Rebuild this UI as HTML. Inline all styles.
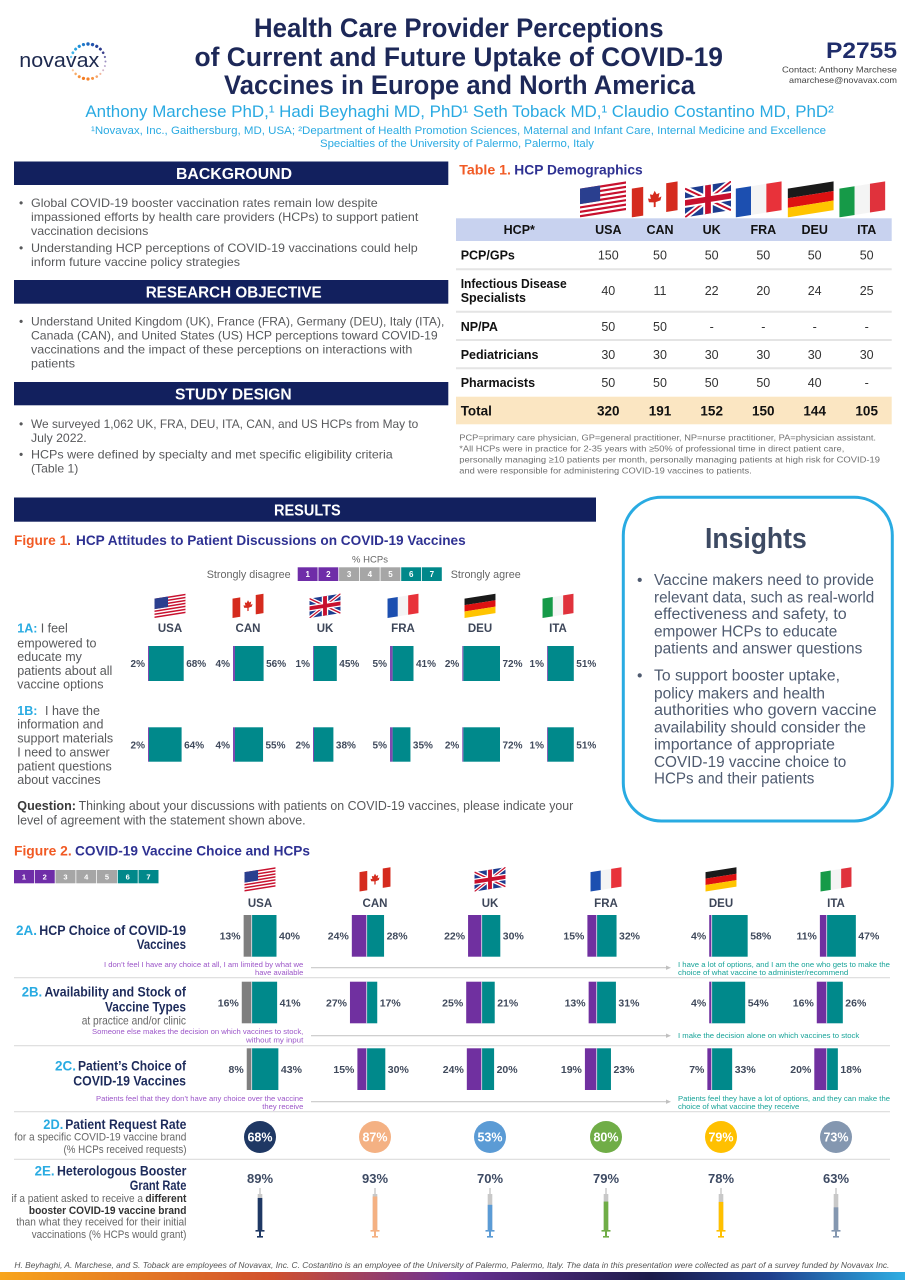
<!DOCTYPE html>
<html><head><meta charset="utf-8"><style>html,body{margin:0;padding:0;background:#fff}svg{display:block}</style></head>
<body>
<svg width="905" height="1280" viewBox="0 0 905 1280" xmlns="http://www.w3.org/2000/svg" font-family="'Liberation Sans', Arial, sans-serif">
<defs>
<symbol id="fUSA" viewBox="0 -8 48 38"><g transform="skewY(-9)"><rect width="48" height="30" fill="#c8102e"/><g fill="#fff"><rect y="2.31" width="48" height="2.31"/><rect y="6.92" width="48" height="2.31"/><rect y="11.54" width="48" height="2.31"/><rect y="16.15" width="48" height="2.31"/><rect y="20.77" width="48" height="2.31"/><rect y="25.38" width="48" height="2.31"/></g><rect width="21" height="16.2" fill="#2a3f8f"/></g></symbol>
<symbol id="fCAN" viewBox="0 -8 48 38"><g transform="skewY(-9)"><rect width="48" height="30" fill="#fff"/><rect width="12" height="30" fill="#d52b1e"/><rect x="36" width="12" height="30" fill="#d52b1e"/><polygon points="24,6 26,10 29,9 28,14 31,13 30,17 25,18 25,23 23,23 23,18 18,17 17,13 20,14 19,9 22,10" fill="#d52b1e"/></g></symbol>
<symbol id="fUK" viewBox="0 -8 48 38"><g transform="skewY(-9)"><rect width="48" height="30" fill="#1d3c8f"/><path d="M0,0 L48,30 M48,0 L0,30" stroke="#fff" stroke-width="6"/><path d="M0,0 L48,30 M48,0 L0,30" stroke="#c8102e" stroke-width="2"/><path d="M24,0 V30 M0,15 H48" stroke="#fff" stroke-width="10"/><path d="M24,0 V30 M0,15 H48" stroke="#c8102e" stroke-width="6"/></g></symbol>
<symbol id="fFRA" viewBox="0 -8 48 38"><g transform="skewY(-9)"><rect width="16" height="30" fill="#1c4fb0"/><rect x="16" width="16" height="30" fill="#f4f4f4"/><rect x="32" width="16" height="30" fill="#e8323a"/></g></symbol>
<symbol id="fDEU" viewBox="0 -8 48 38"><g transform="skewY(-9)"><rect width="48" height="10" fill="#1a1a1a"/><rect y="10" width="48" height="10" fill="#dd1111"/><rect y="20" width="48" height="10" fill="#ffc400"/></g></symbol>
<symbol id="fITA" viewBox="0 -8 48 38"><g transform="skewY(-9)"><rect width="16" height="30" fill="#169a48"/><rect x="16" width="16" height="30" fill="#f4f4f4"/><rect x="32" width="16" height="30" fill="#e0323c"/></g></symbol>
<linearGradient id="bottomg" x1="0" x2="1" y1="0" y2="0"><stop offset="0" stop-color="#f8a51c"/><stop offset="0.3" stop-color="#d1502d"/><stop offset="0.5" stop-color="#6b3295"/><stop offset="0.72" stop-color="#1c1c4a"/><stop offset="0.85" stop-color="#1e3e8c"/><stop offset="1" stop-color="#2eaee3"/></linearGradient>
</defs>

<rect width="905" height="1280" fill="#ffffff"/>

<!-- LOGO -->
<text x="19.3" y="67" font-size="20" fill="#1e2a4f" textLength="80" lengthAdjust="spacingAndGlyphs">novavax</text>
<g transform="translate(88,61.5)">
<circle cx="17.5" cy="0" r="1.2" fill="#6cc5ef" transform="rotate(-165)"/>
<circle cx="17.5" cy="0" r="1.4" fill="#3fb3e8" transform="rotate(-150)"/>
<circle cx="17.5" cy="0" r="1.5" fill="#29a3e0" transform="rotate(-135)"/>
<circle cx="17.5" cy="0" r="1.6" fill="#1f8fd6" transform="rotate(-120)"/>
<circle cx="17.5" cy="0" r="1.6" fill="#1f7acb" transform="rotate(-105)"/>
<circle cx="17.5" cy="0" r="1.7" fill="#1e66bd" transform="rotate(-90)"/>
<circle cx="17.5" cy="0" r="1.7" fill="#2253ad" transform="rotate(-75)"/>
<circle cx="17.5" cy="0" r="1.6" fill="#27449c" transform="rotate(-60)"/>
<circle cx="17.5" cy="0" r="1.5" fill="#2c3a8c" transform="rotate(-45)"/>
<circle cx="17.5" cy="0" r="1.3" fill="#3b3f8a" transform="rotate(-30)"/>
<circle cx="17.5" cy="0" r="1.1" fill="#6c6aa8" transform="rotate(-15)"/>
<circle cx="17.5" cy="0" r="1.0" fill="#9b8fc0" transform="rotate(0)"/>
<circle cx="17.5" cy="0" r="1.0" fill="#b9a7cf" transform="rotate(15)"/>
<circle cx="17.5" cy="0" r="1.0" fill="#d5b4c8" transform="rotate(30)"/>
<circle cx="17.5" cy="0" r="1.1" fill="#f2b8a0" transform="rotate(45)"/>
<circle cx="17.5" cy="0" r="1.3" fill="#f5a46a" transform="rotate(60)"/>
<circle cx="17.5" cy="0" r="1.5" fill="#f7923f" transform="rotate(75)"/>
<circle cx="17.5" cy="0" r="1.6" fill="#f5822a" transform="rotate(90)"/>
<circle cx="17.5" cy="0" r="1.6" fill="#f47b20" transform="rotate(105)"/>
<circle cx="17.5" cy="0" r="1.5" fill="#f6913a" transform="rotate(120)"/>
<circle cx="17.5" cy="0" r="1.3" fill="#f8ab67" transform="rotate(135)"/>
<circle cx="17.5" cy="0" r="1.1" fill="#fbc79a" transform="rotate(150)"/>
</g>

<!-- TITLE -->
<g font-weight="bold" font-size="27" fill="#1d2858">
<text x="254" y="37" textLength="409.6" lengthAdjust="spacingAndGlyphs">Health Care Provider Perceptions</text>
<text x="194.5" y="66" textLength="528.5" lengthAdjust="spacingAndGlyphs">of Current and Future Uptake of COVID-19</text>
<text x="224" y="94" textLength="471" lengthAdjust="spacingAndGlyphs">Vaccines in Europe and North America</text>
</g>
<text x="897" y="58" text-anchor="end" font-weight="bold" font-size="22" fill="#1f2d6b" textLength="71" lengthAdjust="spacingAndGlyphs">P2755</text>
<text x="897" y="72.5" text-anchor="end" font-size="8.5" fill="#444" textLength="115" lengthAdjust="spacingAndGlyphs">Contact: Anthony Marchese</text>
<text x="897" y="83" text-anchor="end" font-size="8.5" fill="#444" textLength="108" lengthAdjust="spacingAndGlyphs">amarchese@novavax.com</text>
<text x="85.4" y="117" font-size="17" fill="#2aaae2" textLength="748.4" lengthAdjust="spacingAndGlyphs">Anthony Marchese PhD,¹ Hadi Beyhaghi MD, PhD¹ Seth Toback MD,¹ Claudio Costantino MD, PhD²</text>
<text x="91" y="134" font-size="11" fill="#2aaae2" textLength="735" lengthAdjust="spacingAndGlyphs">¹Novavax, Inc., Gaithersburg, MD, USA; ²Department of Health Promotion Sciences, Maternal and Infant Care, Internal Medicine and Excellence</text>
<text x="320" y="147" font-size="11" fill="#2aaae2" textLength="274" lengthAdjust="spacingAndGlyphs">Specialties of the University of Palermo, Palermo, Italy</text>

<!-- LEFT COLUMN -->
<rect x="14" y="161.5" width="434.3" height="23.5" fill="#12205e"/>
<text x="176" y="179" font-weight="bold" font-size="16" fill="#fff" textLength="116" lengthAdjust="spacingAndGlyphs">BACKGROUND</text>
<rect x="14" y="280" width="434.3" height="23.7" fill="#12205e"/>
<text x="145.7" y="297.7" font-weight="bold" font-size="16" fill="#fff" textLength="176" lengthAdjust="spacingAndGlyphs">RESEARCH OBJECTIVE</text>
<rect x="14" y="382" width="434.3" height="23.3" fill="#12205e"/>
<text x="175" y="399.5" font-weight="bold" font-size="16" fill="#fff" textLength="116.7" lengthAdjust="spacingAndGlyphs">STUDY DESIGN</text>

<g font-size="12" fill="#58595b">
<text x="19" y="207">•</text>
<text x="31" y="207" textLength="346.7" lengthAdjust="spacingAndGlyphs">Global COVID-19 booster vaccination rates remain low despite</text>
<text x="31" y="221" textLength="387.3" lengthAdjust="spacingAndGlyphs">impassioned efforts by health care providers (HCPs) to support patient</text>
<text x="31" y="235" textLength="117.3" lengthAdjust="spacingAndGlyphs">vaccination decisions</text>
<text x="19" y="252">•</text>
<text x="31" y="252" textLength="386.7" lengthAdjust="spacingAndGlyphs">Understanding HCP perceptions of COVID-19 vaccinations could help</text>
<text x="31" y="266" textLength="209" lengthAdjust="spacingAndGlyphs">inform future vaccine policy strategies</text>
<text x="19" y="325.5">•</text>
<text x="31" y="325.5" textLength="413.3" lengthAdjust="spacingAndGlyphs">Understand United Kingdom (UK), France (FRA), Germany (DEU), Italy (ITA),</text>
<text x="31" y="339.5" textLength="406.7" lengthAdjust="spacingAndGlyphs">Canada (CAN), and United States (US) HCP perceptions toward COVID-19</text>
<text x="31" y="353.5" textLength="381.3" lengthAdjust="spacingAndGlyphs">vaccinations and the impact of these perceptions on interactions with</text>
<text x="31" y="367.5" textLength="44" lengthAdjust="spacingAndGlyphs">patients</text>
<text x="19" y="428">•</text>
<text x="31" y="428" textLength="387.3" lengthAdjust="spacingAndGlyphs">We surveyed 1,062 UK, FRA, DEU, ITA, CAN, and US HCPs from May to</text>
<text x="31" y="442" textLength="55.7" lengthAdjust="spacingAndGlyphs">July 2022.</text>
<text x="19" y="458.5">•</text>
<text x="31" y="458.5" textLength="361.7" lengthAdjust="spacingAndGlyphs">HCPs were defined by specialty and met specific eligibility criteria</text>
<text x="31" y="472.5" textLength="47.3" lengthAdjust="spacingAndGlyphs">(Table 1)</text>
</g>

<!-- TABLE -->
<text x="459.3" y="174.5" font-weight="bold" font-size="14" fill="#f15a24" textLength="51.7" lengthAdjust="spacingAndGlyphs">Table 1.</text>
<text x="514.3" y="174.5" font-weight="bold" font-size="14" fill="#2e3192" textLength="128.4" lengthAdjust="spacingAndGlyphs">HCP Demographics</text>
<use href="#fUSA" x="580" y="181" width="46" height="36.4"/>
<use href="#fCAN" x="631.7" y="181" width="46" height="36.4"/>
<use href="#fUK" x="685" y="181" width="46" height="36.4"/>
<use href="#fFRA" x="735.7" y="181" width="46" height="36.4"/>
<use href="#fDEU" x="787.7" y="181" width="46" height="36.4"/>
<use href="#fITA" x="839.3" y="181" width="46" height="36.4"/>
<rect x="456" y="218.3" width="435.7" height="22.7" fill="#c8d2ef"/>
<rect x="456" y="396.7" width="435.7" height="27.6" fill="#fbe6c2"/>
<g stroke="#e4e4e4" stroke-width="2">
<line x1="456" y1="269.3" x2="891.7" y2="269.3"/>
<line x1="456" y1="311.7" x2="891.7" y2="311.7"/>
<line x1="456" y1="340" x2="891.7" y2="340"/>
<line x1="456" y1="368.3" x2="891.7" y2="368.3"/>
</g>
<g font-weight="bold" font-size="12.5" fill="#111" text-anchor="middle">
<text x="519.3" y="234">HCP*</text>
<text x="608.3" y="234">USA</text>
<text x="660" y="234">CAN</text>
<text x="711.7" y="234">UK</text>
<text x="763.3" y="234">FRA</text>
<text x="814.7" y="234">DEU</text>
<text x="866.7" y="234">ITA</text>
</g>
<g font-weight="bold" font-size="12.5" fill="#111">
<text x="460.7" y="259.5">PCP/GPs</text>
<text x="460.7" y="287.8" textLength="106" lengthAdjust="spacingAndGlyphs">Infectious Disease</text>
<text x="460.7" y="302.2">Specialists</text>
<text x="460.7" y="330.8">NP/PA</text>
<text x="460.7" y="358.8">Pediatricians</text>
<text x="460.7" y="387.2">Pharmacists</text>
<text x="460.7" y="415.5" font-size="13.5">Total</text>
</g>
<g font-size="12.5" fill="#333" text-anchor="middle">
<text x="608.3" y="259.5">150</text><text x="660" y="259.5">50</text><text x="711.7" y="259.5">50</text><text x="763.3" y="259.5">50</text><text x="814.7" y="259.5">50</text><text x="866.7" y="259.5">50</text>
<text x="608.3" y="295.2">40</text><text x="660" y="295.2">11</text><text x="711.7" y="295.2">22</text><text x="763.3" y="295.2">20</text><text x="814.7" y="295.2">24</text><text x="866.7" y="295.2">25</text>
<text x="608.3" y="330.8">50</text><text x="660" y="330.8">50</text><text x="711.7" y="330.8">-</text><text x="763.3" y="330.8">-</text><text x="814.7" y="330.8">-</text><text x="866.7" y="330.8">-</text>
<text x="608.3" y="358.8">30</text><text x="660" y="358.8">30</text><text x="711.7" y="358.8">30</text><text x="763.3" y="358.8">30</text><text x="814.7" y="358.8">30</text><text x="866.7" y="358.8">30</text>
<text x="608.3" y="387.2">50</text><text x="660" y="387.2">50</text><text x="711.7" y="387.2">50</text><text x="763.3" y="387.2">50</text><text x="814.7" y="387.2">40</text><text x="866.7" y="387.2">-</text>
</g>
<g font-weight="bold" font-size="13.5" fill="#111" text-anchor="middle">
<text x="608.3" y="415.5">320</text><text x="660" y="415.5">191</text><text x="711.7" y="415.5">152</text><text x="763.3" y="415.5">150</text><text x="814.7" y="415.5">144</text><text x="866.7" y="415.5">105</text>
</g>
<g font-size="8.5" fill="#707070">
<text x="459.3" y="440.7" textLength="416.7" lengthAdjust="spacingAndGlyphs">PCP=primary care physician, GP=general practitioner, NP=nurse practitioner, PA=physician assistant.</text>
<text x="459.3" y="451.3" textLength="385" lengthAdjust="spacingAndGlyphs">*All HCPs were in practice for 2-35 years with ≥50% of professional time in direct patient care,</text>
<text x="459.3" y="462.3" textLength="420.7" lengthAdjust="spacingAndGlyphs">personally managing ≥10 patients per month, personally managing patients at high risk for COVID-19</text>
<text x="459.3" y="473.3" textLength="292.4" lengthAdjust="spacingAndGlyphs">and were responsible for administering COVID-19 vaccines to patients.</text>
</g>

<!-- RESULTS -->
<rect x="14" y="497.5" width="582" height="24.2" fill="#12205e"/>
<text x="274" y="515.5" font-weight="bold" font-size="16" fill="#fff" textLength="66.7" lengthAdjust="spacingAndGlyphs">RESULTS</text>

<!-- FIGURE 1 -->
<text x="14" y="545" font-weight="bold" font-size="14" fill="#f15a24" textLength="57" lengthAdjust="spacingAndGlyphs">Figure 1.</text>
<text x="76" y="545" font-weight="bold" font-size="14" fill="#2e3192" textLength="389.7" lengthAdjust="spacingAndGlyphs">HCP Attitudes to Patient Discussions on COVID-19 Vaccines</text>
<text x="370" y="562.5" font-size="9.5" fill="#666" text-anchor="middle">% HCPs</text>
<text x="290.7" y="578" font-size="11" fill="#666" text-anchor="end" textLength="84" lengthAdjust="spacingAndGlyphs">Strongly disagree</text>
<text x="450.7" y="578" font-size="11" fill="#666" textLength="70" lengthAdjust="spacingAndGlyphs">Strongly agree</text>
<g>
<rect x="297.7" y="567.3" width="19.9" height="13.7" fill="#6f2da8"/>
<rect x="318.4" y="567.3" width="19.9" height="13.7" fill="#6f2da8"/>
<rect x="339.1" y="567.3" width="19.9" height="13.7" fill="#a6a6a6"/>
<rect x="359.8" y="567.3" width="19.9" height="13.7" fill="#a6a6a6"/>
<rect x="380.5" y="567.3" width="19.9" height="13.7" fill="#a6a6a6"/>
<rect x="401.2" y="567.3" width="19.9" height="13.7" fill="#00888a"/>
<rect x="421.9" y="567.3" width="19.9" height="13.7" fill="#00888a"/>
</g>
<g font-weight="bold" font-size="8" fill="#fff" text-anchor="middle">
<text x="307.7" y="577.2">1</text><text x="328.4" y="577.2">2</text><text x="349.1" y="577.2">3</text><text x="369.8" y="577.2">4</text><text x="390.5" y="577.2">5</text><text x="411.2" y="577.2">6</text><text x="431.9" y="577.2">7</text>
</g>
<use href="#fUSA" x="154.5" y="593.5" width="31" height="24.5"/>
<use href="#fCAN" x="232.5" y="593.5" width="31" height="24.5"/>
<use href="#fUK" x="309.5" y="593.5" width="31" height="24.5"/>
<use href="#fFRA" x="387.5" y="593.5" width="31" height="24.5"/>
<use href="#fDEU" x="464.5" y="593.5" width="31" height="24.5"/>
<use href="#fITA" x="542.5" y="593.5" width="31" height="24.5"/>
<g font-weight="bold" font-size="11.5" fill="#3d4659" text-anchor="middle">
<text x="170" y="632">USA</text><text x="248" y="632">CAN</text><text x="325" y="632">UK</text><text x="403" y="632">FRA</text><text x="480" y="632">DEU</text><text x="558" y="632">ITA</text>
</g>

<!-- 1A / 1B labels -->
<g font-size="12.5" fill="#58595b">
<text x="17.3" y="632.6" font-weight="bold" fill="#29abe2">1A:</text>
<text x="40.7" y="632.6">I feel</text>
<text x="17.3" y="647.6">empowered to</text>
<text x="17.3" y="661">educate my</text>
<text x="17.3" y="675" textLength="95" lengthAdjust="spacingAndGlyphs">patients about all</text>
<text x="17.3" y="688.6">vaccine options</text>
<text x="17.3" y="715" font-weight="bold" fill="#29abe2">1B:</text>
<text x="45" y="715">I have the</text>
<text x="17.3" y="728.6">information and</text>
<text x="17.3" y="742.6">support materials</text>
<text x="17.3" y="756.6">I need to answer</text>
<text x="17.3" y="770.3">patient questions</text>
<text x="17.3" y="784">about vaccines</text>
</g>

<!-- Fig1 bars -->
<g fill="#00898b">
<rect x="149" y="646" width="34.7" height="35"/>
<rect x="235" y="646" width="28.6" height="35"/>
<rect x="313.8" y="646" width="23" height="35"/>
<rect x="392.6" y="646" width="20.9" height="35"/>
<rect x="463.3" y="646" width="36.7" height="35"/>
<rect x="547.8" y="646" width="26" height="35"/>
<rect x="149" y="727.3" width="32.6" height="34.4"/>
<rect x="235" y="727.3" width="28.05" height="34.4"/>
<rect x="314" y="727.3" width="19.4" height="34.4"/>
<rect x="392.6" y="727.3" width="17.85" height="34.4"/>
<rect x="463.3" y="727.3" width="36.7" height="34.4"/>
<rect x="547.8" y="727.3" width="26" height="34.4"/>
</g>
<g fill="#7e4ab0">
<rect x="148" y="646" width="1" height="35"/>
<rect x="233" y="646" width="2" height="35"/>
<rect x="313" y="646" width="0.8" height="35"/>
<rect x="390" y="646" width="2.6" height="35"/>
<rect x="462.3" y="646" width="1" height="35"/>
<rect x="547" y="646" width="0.8" height="35"/>
<rect x="148" y="727.3" width="1" height="34.4"/>
<rect x="233" y="727.3" width="2" height="34.4"/>
<rect x="313" y="727.3" width="1" height="34.4"/>
<rect x="390" y="727.3" width="2.6" height="34.4"/>
<rect x="462.3" y="727.3" width="1" height="34.4"/>
<rect x="547" y="727.3" width="0.8" height="34.4"/>
</g>
<g font-weight="bold" font-size="10" fill="#404a5c">
<g text-anchor="end">
<text x="145" y="667">2%</text><text x="230" y="667">4%</text><text x="310" y="667">1%</text><text x="387" y="667">5%</text><text x="459.3" y="667">2%</text><text x="544" y="667">1%</text>
<text x="145" y="748.5">2%</text><text x="230" y="748.5">4%</text><text x="310" y="748.5">2%</text><text x="387" y="748.5">5%</text><text x="459.3" y="748.5">2%</text><text x="544" y="748.5">1%</text>
</g>
<text x="186.2" y="667">68%</text><text x="266.1" y="667">56%</text><text x="339.3" y="667">45%</text><text x="416" y="667">41%</text><text x="502.5" y="667">72%</text><text x="576.3" y="667">51%</text>
<text x="184.1" y="748.5">64%</text><text x="265.5" y="748.5">55%</text><text x="335.9" y="748.5">38%</text><text x="412.9" y="748.5">35%</text><text x="502.5" y="748.5">72%</text><text x="576.3" y="748.5">51%</text>
</g>

<text x="17.3" y="810" font-weight="bold" font-size="12.5" fill="#3a3a3a" textLength="58.7" lengthAdjust="spacingAndGlyphs">Question:</text>
<text x="78.6" y="810" font-size="12.5" fill="#58595b" textLength="494.7" lengthAdjust="spacingAndGlyphs">Thinking about your discussions with patients on COVID-19 vaccines, please indicate your</text>
<text x="17.3" y="824.5" font-size="12.5" fill="#58595b">level of agreement with the statement shown above.</text>

<!-- INSIGHTS -->
<rect x="623.3" y="497.3" width="269" height="323.7" rx="38" ry="38" fill="#fff" stroke="#29abe2" stroke-width="3"/>
<text x="705" y="548" font-weight="bold" font-size="29" fill="#3d4a63" textLength="101.7" lengthAdjust="spacingAndGlyphs">Insights</text>
<g font-size="15.5" fill="#4f5b70">
<text x="637" y="585">•</text>
<text x="654" y="585" textLength="220" lengthAdjust="spacingAndGlyphs">Vaccine makers need to provide</text>
<text x="654" y="602.3" textLength="220.3" lengthAdjust="spacingAndGlyphs">relevant data, such as real-world</text>
<text x="654" y="619" textLength="192.7" lengthAdjust="spacingAndGlyphs">effectiveness and safety, to</text>
<text x="654" y="636.3" textLength="183.3" lengthAdjust="spacingAndGlyphs">empower HCPs to educate</text>
<text x="654" y="653.7" textLength="208.3" lengthAdjust="spacingAndGlyphs">patients and answer questions</text>
<text x="637" y="680.7">•</text>
<text x="654" y="680.7" textLength="186" lengthAdjust="spacingAndGlyphs">To support booster uptake,</text>
<text x="654" y="698.3" textLength="171" lengthAdjust="spacingAndGlyphs">policy makers and health</text>
<text x="654" y="715" textLength="222.7" lengthAdjust="spacingAndGlyphs">authorities who govern vaccine</text>
<text x="654" y="732.3" textLength="212" lengthAdjust="spacingAndGlyphs">availability should consider the</text>
<text x="654" y="749.7" textLength="181" lengthAdjust="spacingAndGlyphs">importance of appropriate</text>
<text x="654" y="767" textLength="192.3" lengthAdjust="spacingAndGlyphs">COVID-19 vaccine choice to</text>
<text x="654" y="783.7" textLength="160.3" lengthAdjust="spacingAndGlyphs">HCPs and their patients</text>
</g>

<!-- FIGURE 2 -->
<text x="14" y="855.7" font-weight="bold" font-size="14" fill="#f15a24" textLength="57.7" lengthAdjust="spacingAndGlyphs">Figure 2.</text>
<text x="75" y="855.7" font-weight="bold" font-size="14" fill="#2e3192" textLength="235" lengthAdjust="spacingAndGlyphs">COVID-19 Vaccine Choice and HCPs</text>
<g>
<rect x="14" y="870" width="20" height="13.3" fill="#6f2da8"/>
<rect x="34.75" y="870" width="20" height="13.3" fill="#6f2da8"/>
<rect x="55.5" y="870" width="20" height="13.3" fill="#a6a6a6"/>
<rect x="76.25" y="870" width="20" height="13.3" fill="#a6a6a6"/>
<rect x="97" y="870" width="20" height="13.3" fill="#a6a6a6"/>
<rect x="117.75" y="870" width="20" height="13.3" fill="#00888a"/>
<rect x="138.5" y="870" width="20" height="13.3" fill="#00888a"/>
</g>
<g font-weight="bold" font-size="7.5" fill="#fff" text-anchor="middle">
<text x="24" y="879.6">1</text><text x="44.75" y="879.6">2</text><text x="65.5" y="879.6">3</text><text x="86.25" y="879.6">4</text><text x="107" y="879.6">5</text><text x="127.75" y="879.6">6</text><text x="148.5" y="879.6">7</text>
</g>
<use href="#fUSA" x="244.5" y="867" width="31" height="24.5"/>
<use href="#fCAN" x="359.5" y="867" width="31" height="24.5"/>
<use href="#fUK" x="474.5" y="867" width="31" height="24.5"/>
<use href="#fFRA" x="590.5" y="867" width="31" height="24.5"/>
<use href="#fDEU" x="705.5" y="867" width="31" height="24.5"/>
<use href="#fITA" x="820.5" y="867" width="31" height="24.5"/>
<g font-weight="bold" font-size="11.5" fill="#3d4659" text-anchor="middle">
<text x="260" y="907">USA</text><text x="375" y="907">CAN</text><text x="490" y="907">UK</text><text x="606" y="907">FRA</text><text x="721" y="907">DEU</text><text x="836" y="907">ITA</text>
</g>

<!-- row labels -->
<g font-weight="bold" font-size="13.5">
<text x="16" y="935" fill="#29abe2" textLength="21" lengthAdjust="spacingAndGlyphs">2A.</text>
<text x="39.3" y="935" fill="#1d2b5b" textLength="146.7" lengthAdjust="spacingAndGlyphs">HCP Choice of COVID-19</text>
<text x="136.7" y="949" fill="#1d2b5b" textLength="49.3" lengthAdjust="spacingAndGlyphs">Vaccines</text>
<text x="21.7" y="996.7" fill="#29abe2" textLength="20.5" lengthAdjust="spacingAndGlyphs">2B.</text>
<text x="44.5" y="996.7" fill="#1d2b5b" textLength="141.5" lengthAdjust="spacingAndGlyphs">Availability and Stock of</text>
<text x="105" y="1011.7" fill="#1d2b5b" textLength="81" lengthAdjust="spacingAndGlyphs">Vaccine Types</text>
<text x="55" y="1070.7" fill="#29abe2" textLength="21" lengthAdjust="spacingAndGlyphs">2C.</text>
<text x="78" y="1070.7" fill="#1d2b5b" textLength="108" lengthAdjust="spacingAndGlyphs">Patient’s Choice of</text>
<text x="73.3" y="1085.7" fill="#1d2b5b" textLength="112.7" lengthAdjust="spacingAndGlyphs">COVID-19 Vaccines</text>
</g>
<text x="81.7" y="1024.5" font-size="12" fill="#666" textLength="104.3" lengthAdjust="spacingAndGlyphs">at practice and/or clinic</text>

<!-- separators -->
<g stroke="#dcdcdc" stroke-width="1.2">
<line x1="14" y1="977.7" x2="890" y2="977.7"/>
<line x1="14" y1="1045.7" x2="890" y2="1045.7"/>
<line x1="14" y1="1111.7" x2="890" y2="1111.7"/>
<line x1="14" y1="1159.3" x2="890" y2="1159.3"/>
</g>
<!-- arrows -->
<g stroke="#c8c8c8" stroke-width="1.2">
<line x1="311" y1="967.7" x2="667" y2="967.7"/>
<line x1="311" y1="1035.7" x2="667" y2="1035.7"/>
<line x1="311" y1="1101.7" x2="667" y2="1101.7"/>
</g>
<g fill="#c0c0c0">
<polygon points="666,965.5 671,967.7 666,969.9"/>
<polygon points="666,1033.5 671,1035.7 666,1037.9"/>
<polygon points="666,1099.5 671,1101.7 666,1103.9"/>
</g>
<!-- annotations -->
<g font-size="7.3" fill="#9b55c8">
<text x="104" y="966.8" textLength="199.3" lengthAdjust="spacingAndGlyphs">I don’t feel I have any choice at all, I am limited by what we</text>
<text x="255" y="975.2" textLength="48.3" lengthAdjust="spacingAndGlyphs">have available</text>
<text x="92" y="1034.2" textLength="211.3" lengthAdjust="spacingAndGlyphs">Someone else makes the decision on which vaccines to stock,</text>
<text x="246" y="1042.5" textLength="57.3" lengthAdjust="spacingAndGlyphs">without my input</text>
<text x="96" y="1100.8" textLength="207.3" lengthAdjust="spacingAndGlyphs">Patients feel that they don’t have any choice over the vaccine</text>
<text x="262.3" y="1109.2" textLength="41" lengthAdjust="spacingAndGlyphs">they receive</text>
</g>
<g font-size="7.3" fill="#17a398">
<text x="678" y="966.8" textLength="212" lengthAdjust="spacingAndGlyphs">I have a lot of options, and I am the one who gets to make the</text>
<text x="678" y="975.2" textLength="170.3" lengthAdjust="spacingAndGlyphs">choice of what vaccine to administer/recommend</text>
<text x="678" y="1038.2" textLength="181.3" lengthAdjust="spacingAndGlyphs">I make the decision alone on which vaccines to stock</text>
<text x="678" y="1100.8" textLength="212" lengthAdjust="spacingAndGlyphs">Patients feel they have a lot of options, and they can make the</text>
<text x="678" y="1109.2" textLength="121.3" lengthAdjust="spacingAndGlyphs">choice of what vaccine they receive</text>
</g>

<!-- Fig2 bars -->
<g fill="#00898b">
<rect x="251.7" y="915" width="24.8" height="41.7"/>
<rect x="366.7" y="915" width="17.36" height="41.7"/>
<rect x="481.7" y="915" width="18.6" height="41.7"/>
<rect x="596.7" y="915" width="19.84" height="41.7"/>
<rect x="711.7" y="915" width="35.96" height="41.7"/>
<rect x="826.7" y="915" width="29.14" height="41.7"/>
<rect x="251.7" y="981.7" width="25.42" height="41.6"/>
<rect x="366.7" y="981.7" width="10.54" height="41.6"/>
<rect x="481.7" y="981.7" width="13.02" height="41.6"/>
<rect x="596.7" y="981.7" width="19.22" height="41.6"/>
<rect x="711.7" y="981.7" width="33.48" height="41.6"/>
<rect x="826.7" y="981.7" width="16.12" height="41.6"/>
<rect x="251.7" y="1048.3" width="26.66" height="41.7"/>
<rect x="366.7" y="1048.3" width="18.6" height="41.7"/>
<rect x="481.7" y="1048.3" width="12.4" height="41.7"/>
<rect x="596.7" y="1048.3" width="14.26" height="41.7"/>
<rect x="711.7" y="1048.3" width="20.46" height="41.7"/>
<rect x="826.7" y="1048.3" width="11.16" height="41.7"/>
</g>
<g fill="#7f7f7f">
<rect x="243.64" y="915" width="8.06" height="41.7"/>
<rect x="241.78" y="981.7" width="9.92" height="41.6"/>
<rect x="246.74" y="1048.3" width="4.96" height="41.7"/>
</g>
<g fill="#7030a0">
<rect x="351.82" y="915" width="14.88" height="41.7"/>
<rect x="468.06" y="915" width="13.64" height="41.7"/>
<rect x="587.4" y="915" width="9.3" height="41.7"/>
<rect x="709.22" y="915" width="2.48" height="41.7"/>
<rect x="819.88" y="915" width="6.82" height="41.7"/>
<rect x="349.96" y="981.7" width="16.74" height="41.6"/>
<rect x="466.2" y="981.7" width="15.5" height="41.6"/>
<rect x="588.64" y="981.7" width="8.06" height="41.6"/>
<rect x="709.22" y="981.7" width="2.48" height="41.6"/>
<rect x="816.78" y="981.7" width="9.92" height="41.6"/>
<rect x="357.4" y="1048.3" width="9.3" height="41.7"/>
<rect x="466.82" y="1048.3" width="14.88" height="41.7"/>
<rect x="584.92" y="1048.3" width="11.78" height="41.7"/>
<rect x="707.36" y="1048.3" width="4.34" height="41.7"/>
<rect x="814.3" y="1048.3" width="12.4" height="41.7"/>
</g>
<g stroke="#e8e8f0" stroke-width="0.8">
<line x1="251.7" y1="915" x2="251.7" y2="956.7"/><line x1="366.7" y1="915" x2="366.7" y2="956.7"/><line x1="481.7" y1="915" x2="481.7" y2="956.7"/><line x1="596.7" y1="915" x2="596.7" y2="956.7"/><line x1="711.7" y1="915" x2="711.7" y2="956.7"/><line x1="826.7" y1="915" x2="826.7" y2="956.7"/>
<line x1="251.7" y1="981.7" x2="251.7" y2="1023.3"/><line x1="366.7" y1="981.7" x2="366.7" y2="1023.3"/><line x1="481.7" y1="981.7" x2="481.7" y2="1023.3"/><line x1="596.7" y1="981.7" x2="596.7" y2="1023.3"/><line x1="711.7" y1="981.7" x2="711.7" y2="1023.3"/><line x1="826.7" y1="981.7" x2="826.7" y2="1023.3"/>
<line x1="251.7" y1="1048.3" x2="251.7" y2="1090"/><line x1="366.7" y1="1048.3" x2="366.7" y2="1090"/><line x1="481.7" y1="1048.3" x2="481.7" y2="1090"/><line x1="596.7" y1="1048.3" x2="596.7" y2="1090"/><line x1="711.7" y1="1048.3" x2="711.7" y2="1090"/><line x1="826.7" y1="1048.3" x2="826.7" y2="1090"/>
</g>
<g font-weight="bold" font-size="10.5" fill="#404a5c">
<g text-anchor="end">
<text x="240.6" y="939.7">13%</text><text x="348.8" y="939.7">24%</text><text x="465.1" y="939.7">22%</text><text x="584.4" y="939.7">15%</text><text x="706.2" y="939.7">4%</text><text x="816.9" y="939.7">11%</text>
<text x="238.8" y="1006.4">16%</text><text x="347" y="1006.4">27%</text><text x="463.2" y="1006.4">25%</text><text x="585.6" y="1006.4">13%</text><text x="706.2" y="1006.4">4%</text><text x="813.8" y="1006.4">16%</text>
<text x="243.7" y="1073">8%</text><text x="354.4" y="1073">15%</text><text x="463.8" y="1073">24%</text><text x="581.9" y="1073">19%</text><text x="704.4" y="1073">7%</text><text x="811.3" y="1073">20%</text>
</g>
<text x="279" y="939.7">40%</text><text x="386.6" y="939.7">28%</text><text x="502.8" y="939.7">30%</text><text x="619" y="939.7">32%</text><text x="750.2" y="939.7">58%</text><text x="858.3" y="939.7">47%</text>
<text x="279.6" y="1006.4">41%</text><text x="379.7" y="1006.4">17%</text><text x="497.2" y="1006.4">21%</text><text x="618.4" y="1006.4">31%</text><text x="747.7" y="1006.4">54%</text><text x="845.3" y="1006.4">26%</text>
<text x="280.9" y="1073">43%</text><text x="387.8" y="1073">30%</text><text x="496.6" y="1073">20%</text><text x="613.5" y="1073">23%</text><text x="734.7" y="1073">33%</text><text x="840.4" y="1073">18%</text>
</g>

<!-- 2D -->
<text x="43.3" y="1129" font-weight="bold" font-size="13.5" fill="#29abe2" textLength="20" lengthAdjust="spacingAndGlyphs">2D.</text>
<text x="65.2" y="1129" font-weight="bold" font-size="13.5" fill="#1d2b5b" textLength="121.2" lengthAdjust="spacingAndGlyphs">Patient Request Rate</text>
<text x="14.4" y="1140.5" font-size="11" fill="#666" textLength="172" lengthAdjust="spacingAndGlyphs">for a specific COVID-19 vaccine brand</text>
<text x="63.5" y="1153" font-size="11" fill="#666" textLength="123" lengthAdjust="spacingAndGlyphs">(% HCPs received requests)</text>
<circle cx="260" cy="1137" r="16" fill="#1f3864"/>
<circle cx="375" cy="1137" r="16" fill="#f4b183"/>
<circle cx="490" cy="1137" r="16" fill="#5b9bd5"/>
<circle cx="606" cy="1137" r="16" fill="#70ad47"/>
<circle cx="721" cy="1137" r="16" fill="#ffc000"/>
<circle cx="836" cy="1137" r="16" fill="#8497b0"/>
<g font-weight="bold" font-size="12.5" fill="#fff" text-anchor="middle">
<text x="260" y="1141.5">68%</text><text x="375" y="1141.5">87%</text><text x="490" y="1141.5">53%</text><text x="606" y="1141.5">80%</text><text x="721" y="1141.5">79%</text><text x="836" y="1141.5">73%</text>
</g>

<!-- 2E -->
<text x="34.6" y="1175.7" font-weight="bold" font-size="13.5" fill="#29abe2" textLength="20" lengthAdjust="spacingAndGlyphs">2E.</text>
<text x="57" y="1175.7" font-weight="bold" font-size="13.5" fill="#1d2b5b" textLength="129.4" lengthAdjust="spacingAndGlyphs">Heterologous Booster</text>
<text x="129.8" y="1190" font-weight="bold" font-size="13.5" fill="#1d2b5b" textLength="56.6" lengthAdjust="spacingAndGlyphs">Grant Rate</text>
<text x="11.5" y="1202" font-size="11" fill="#666" textLength="131.5" lengthAdjust="spacingAndGlyphs">if a patient asked to receive a</text>
<text x="145.4" y="1202" font-size="11" font-weight="bold" fill="#333" textLength="41" lengthAdjust="spacingAndGlyphs">different</text>
<text x="28.9" y="1213.8" font-size="11" font-weight="bold" fill="#333" textLength="157.5" lengthAdjust="spacingAndGlyphs">booster COVID-19 vaccine brand</text>
<text x="16.2" y="1225.5" font-size="11" fill="#666" textLength="170.2" lengthAdjust="spacingAndGlyphs">than what they received for their initial</text>
<text x="31.7" y="1237.8" font-size="11" fill="#666" textLength="154.7" lengthAdjust="spacingAndGlyphs">vaccinations (% HCPs would grant)</text>
<g font-weight="bold" font-size="13" fill="#3d4a63" text-anchor="middle">
<text x="260" y="1183">89%</text><text x="375" y="1183">93%</text><text x="490" y="1183">70%</text><text x="606" y="1183">79%</text><text x="721" y="1183">78%</text><text x="836" y="1183">63%</text>
</g>

<!-- syringes -->
<g>
<line x1="260" y1="1188" x2="260" y2="1194" stroke="#b0b0b0" stroke-width="1"/>
<rect x="257.7" y="1194" width="4.6" height="36" fill="#c8c8c8"/>
<rect x="257.7" y="1197.96" width="4.6" height="32.04" fill="#1f3864"/>
<rect x="255.5" y="1230" width="9" height="1.6" fill="#1f3864"/><rect x="259" y="1231" width="2" height="5" fill="#1f3864"/><rect x="257" y="1236" width="6" height="1.6" fill="#1f3864"/>

<line x1="375" y1="1188" x2="375" y2="1194" stroke="#b0b0b0" stroke-width="1"/>
<rect x="372.7" y="1194" width="4.6" height="36" fill="#c8c8c8"/>
<rect x="372.7" y="1196.52" width="4.6" height="33.48" fill="#f4b183"/>
<rect x="370.5" y="1230" width="9" height="1.6" fill="#f4b183"/><rect x="374" y="1231" width="2" height="5" fill="#f4b183"/><rect x="372" y="1236" width="6" height="1.6" fill="#f4b183"/>

<line x1="490" y1="1188" x2="490" y2="1194" stroke="#b0b0b0" stroke-width="1"/>
<rect x="487.7" y="1194" width="4.6" height="36" fill="#c8c8c8"/>
<rect x="487.7" y="1204.8" width="4.6" height="25.2" fill="#5b9bd5"/>
<rect x="485.5" y="1230" width="9" height="1.6" fill="#5b9bd5"/><rect x="489" y="1231" width="2" height="5" fill="#5b9bd5"/><rect x="487" y="1236" width="6" height="1.6" fill="#5b9bd5"/>

<line x1="606" y1="1188" x2="606" y2="1194" stroke="#b0b0b0" stroke-width="1"/>
<rect x="603.7" y="1194" width="4.6" height="36" fill="#c8c8c8"/>
<rect x="603.7" y="1201.56" width="4.6" height="28.44" fill="#70ad47"/>
<rect x="601.5" y="1230" width="9" height="1.6" fill="#70ad47"/><rect x="605" y="1231" width="2" height="5" fill="#70ad47"/><rect x="603" y="1236" width="6" height="1.6" fill="#70ad47"/>

<line x1="721" y1="1188" x2="721" y2="1194" stroke="#b0b0b0" stroke-width="1"/>
<rect x="718.7" y="1194" width="4.6" height="36" fill="#c8c8c8"/>
<rect x="718.7" y="1201.92" width="4.6" height="28.08" fill="#ffc000"/>
<rect x="716.5" y="1230" width="9" height="1.6" fill="#ffc000"/><rect x="720" y="1231" width="2" height="5" fill="#ffc000"/><rect x="718" y="1236" width="6" height="1.6" fill="#ffc000"/>

<line x1="836" y1="1188" x2="836" y2="1194" stroke="#b0b0b0" stroke-width="1"/>
<rect x="833.7" y="1194" width="4.6" height="36" fill="#c8c8c8"/>
<rect x="833.7" y="1207.32" width="4.6" height="22.68" fill="#8497b0"/>
<rect x="831.5" y="1230" width="9" height="1.6" fill="#8497b0"/><rect x="835" y="1231" width="2" height="5" fill="#8497b0"/><rect x="833" y="1236" width="6" height="1.6" fill="#8497b0"/>
</g>

<!-- footer -->
<text x="14.4" y="1268" font-size="8" font-style="italic" fill="#555" textLength="875" lengthAdjust="spacingAndGlyphs">H. Beyhaghi, A. Marchese, and S. Toback are employees of Novavax, Inc. C. Costantino is an employee of the University of Palermo, Palermo, Italy. The data in this presentation were collected as part of a survey funded by Novavax Inc.</text>
<rect x="0" y="1272" width="905" height="8" fill="url(#bottomg)"/>
</svg>
</body></html>
